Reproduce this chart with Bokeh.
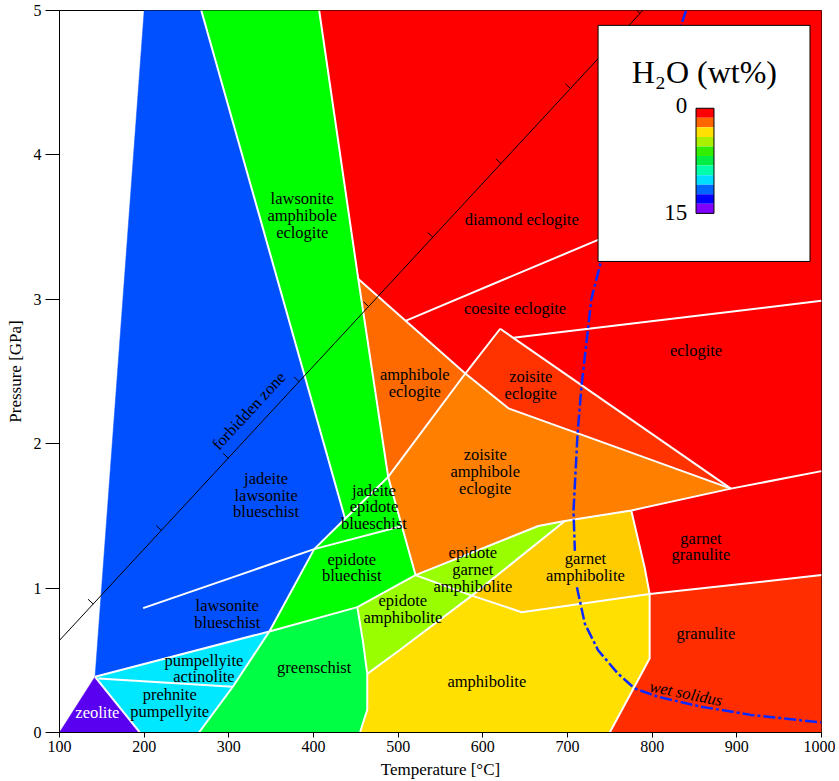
import math
from bokeh.plotting import figure
from bokeh.models import ColumnDataSource, Range1d, FixedTicker
from bokeh.core.properties import value
from bokeh.embed import file_html
from bokeh.resources import INLINE

FONT = "Liberation Serif"

# ---------------- facies fields (T in degC, P in GPa) ----------------
eclogite_T = [406.7, 1000, 1000, 893.0, 620.5, 579.3, 452.9]
eclogite_P = [5.0, 5.0, 1.81, 1.689, 2.796, 2.486, 3.14]
zoisite_eclogite_T = [579.3, 620.5, 893.0, 736.1, 630.2]
zoisite_eclogite_P = [2.486, 2.796, 1.689, 2.021, 2.245]
amph_eclogite_T = [452.9, 579.3, 488.2]
amph_eclogite_P = [3.14, 2.486, 1.77]
zo_amph_eclogite_T = [488.2, 579.3, 630.2, 736.1, 893.0, 775.3, 696.9, 665.5, 520.5]
zo_amph_eclogite_P = [1.77, 2.486, 2.245, 2.021, 1.689, 1.538, 1.465, 1.43, 1.09]
garnet_granulite_T = [775.3, 893.0, 1000, 1000, 797.0, 791.1]
garnet_granulite_P = [1.538, 1.689, 1.81, 1.09, 0.959, 1.143]
granulite_T = [797.0, 1000, 1000, 749.9, 797.0]
granulite_P = [0.959, 1.09, 0.0, 0.0, 0.512]
garnet_amphibolite_T = [587.1, 696.9, 775.3, 791.1, 797.0, 645.9]
garnet_amphibolite_P = [0.948, 1.465, 1.538, 1.143, 0.959, 0.833]
ep_garnet_amphibolite_T = [520.5, 665.5, 696.9, 587.1]
ep_garnet_amphibolite_P = [1.09, 1.43, 1.465, 0.948]
ep_amphibolite_T = [451.8, 520.5, 587.1, 500.8, 463.5, 458.5]
ep_amphibolite_P = [0.868, 1.09, 0.948, 0.566, 0.406, 0.627]
amphibolite_T = [463.5, 500.8, 587.1, 645.9, 797.0, 797.0, 749.9, 454.9, 463.5]
amphibolite_P = [0.406, 0.566, 0.948, 0.833, 0.959, 0.512, 0.0, 0.0, 0.158]
greenschist_T = [347.9, 451.8, 458.5, 463.5, 463.5, 454.9, 264.7, 304.7]
greenschist_P = [0.70, 0.868, 0.627, 0.406, 0.158, 0.0, 0.0, 0.317]
law_amph_eclogite_T = [267.5, 406.7, 452.9, 488.2, 437.3]
law_amph_eclogite_P = [5.0, 5.0, 3.14, 1.77, 1.48]
jd_ep_blueschist_T = [437.3, 488.2, 504.7, 400.8]
jd_ep_blueschist_P = [1.48, 1.77, 1.43, 1.27]
ep_blueschist_T = [400.8, 504.7, 520.5, 451.8, 347.9]
ep_blueschist_P = [1.27, 1.43, 1.09, 0.868, 0.70]
blueschist_T = [200.0, 267.5, 437.3, 400.8, 347.9, 142.0]
blueschist_P = [5.0, 5.0, 1.48, 1.27, 0.70, 0.386]
pumpellyite_T = [142.0, 347.9, 304.7, 264.7, 194.9]
pumpellyite_P = [0.386, 0.70, 0.317, 0.0, 0.0]
zeolite_T = [100.0, 142.0, 194.9]
zeolite_P = [0.0, 0.386, 0.0]

# ---------------- field boundaries (white lines) ----------------
boundary_T = [
    [267.5, 437.3],
    [406.7, 452.9, 488.2, 520.5],
    [400.8, 437.3, 488.2, 579.3, 620.5],
    [452.9, 579.3, 630.2, 736.1, 893.0],
    [620.5, 893.0],
    [636.1, 1000],
    [508.7, 760.0],
    [520.5, 665.5, 696.9, 775.3, 893.0, 1000],
    [400.8, 504.7],
    [198.8, 400.8],
    [400.8, 347.9],
    [142.0, 347.9, 451.8, 520.5],
    [264.7, 304.7, 347.9],
    [145.9, 304.7],
    [142.0, 194.9],
    [451.8, 458.5, 463.5, 463.5, 454.9],
    [463.5, 500.8, 587.1, 696.9],
    [520.5, 587.1, 645.9, 797.0, 1000],
    [775.3, 791.1, 797.0, 797.0, 749.9],
]
boundary_P = [
    [5.0, 1.48],
    [5.0, 3.14, 1.77, 1.09],
    [1.27, 1.48, 1.77, 2.486, 2.796],
    [3.14, 2.486, 2.245, 2.021, 1.689],
    [2.796, 1.689],
    [2.733, 2.99],
    [2.851, 3.47],
    [1.09, 1.43, 1.465, 1.538, 1.689, 1.81],
    [1.27, 1.43],
    [0.861, 1.27],
    [1.27, 0.70],
    [0.386, 0.70, 0.868, 1.09],
    [0.0, 0.317, 0.70],
    [0.374, 0.317],
    [0.386, 0.0],
    [0.868, 0.627, 0.406, 0.158, 0.0],
    [0.406, 0.566, 0.948, 1.465],
    [1.09, 0.948, 0.833, 0.959, 1.09],
    [1.538, 1.143, 0.959, 0.512, 0.0],
]

# wet solidus (gap where the label sits over it)
solidus_T = [840.0, 834.1, 739.3, 728.2, 716.5, 711.8, 707.1, 708.7, float("nan"),
             711.1, 720.5, 736.1, 759.6, 779.3, 806.7, 857.6, 916.5, 1000.0]
solidus_P = [5.0, 4.897, 3.256, 3.003, 2.397, 2.061, 1.534, 1.258, float("nan"),
             1.006, 0.753, 0.57, 0.408, 0.305, 0.248, 0.179, 0.122, 0.069]

# forbidden zone limit and its tick marks
forbidden_T = [100.0, 788.8]
forbidden_P = [0.638, 5.0]
forbidden_tick_P = [0.89, 1.40, 1.90, 2.43, 2.95, 3.43, 3.94, 4.46, 4.98]

# field names and anchor positions
label_text = ["lawsonite\namphibole\neclogite", "diamond eclogite", "coesite eclogite",
              "eclogite", "amphibole\neclogite", "zoisite\neclogite",
              "zoisite\namphibole\neclogite", "jadeite\nlawsonite\nblueschist",
              "jadeite\nepidote\nblueschist", "epidote\nbluechist", "lawsonite\nblueschist",
              "epidote\ngarnet\namphibolite", "epidote\namphibolite", "garnet\namphibolite",
              "garnet\ngranulite", "granulite", "amphibolite", "greenschist",
              "pumpellyite\nactinolite", "prehnite\npumpellyite"]
label_T = [386.7, 645.9, 638.1, 851.8, 519.6, 656.5, 602.8, 344.0, 471.4, 445.2, 298.1,
           588.2, 505.5, 721.2, 857.6, 863.5, 604.7, 400.8, 270.6, 230.2]
label_P = [3.581, 3.554, 2.934, 2.647, 2.422, 2.404, 1.809, 1.644, 1.563, 1.143, 0.820,
           1.129, 0.856, 1.145, 1.288, 0.684, 0.351, 0.450, 0.443, 0.205]

# H2O colour key
h2o_key_labels = ["0", "15"]
h2o_key_colors = ["#FF0000", "#FF6600", "#FFE000", "#AAF000", "#33EE00", "#00EE44",
                  "#00FFAA", "#00DDFF", "#0066FF", "#0000FF", "#8000FF"]

# ---------------- figure ----------------
FW, FH = 762, 722
p = figure(frame_width=FW, frame_height=FH,
           x_range=Range1d(100, 1000), y_range=Range1d(0, 5),
           output_backend="svg", toolbar_location=None,
           min_border_left=59, min_border_right=14, min_border_top=10, min_border_bottom=46,
           background_fill_color="white", border_fill_color="white")
p.xgrid.visible = False
p.ygrid.visible = False
p.outline_line_color = "black"
p.outline_line_width = 1

regions = [
    (eclogite_T, eclogite_P, "#FF0000"),
    (zoisite_eclogite_T, zoisite_eclogite_P, "#FF3300"),
    (amph_eclogite_T, amph_eclogite_P, "#FF6A00"),
    (zo_amph_eclogite_T, zo_amph_eclogite_P, "#FF8000"),
    (garnet_granulite_T, garnet_granulite_P, "#FF0000"),
    (granulite_T, granulite_P, "#FF2D00"),
    (garnet_amphibolite_T, garnet_amphibolite_P, "#FFCC00"),
    (ep_garnet_amphibolite_T, ep_garnet_amphibolite_P, "#99FF00"),
    (ep_amphibolite_T, ep_amphibolite_P, "#99FF00"),
    (amphibolite_T, amphibolite_P, "#FFE000"),
    (greenschist_T, greenschist_P, "#00FF44"),
    (law_amph_eclogite_T, law_amph_eclogite_P, "#00FF00"),
    (jd_ep_blueschist_T, jd_ep_blueschist_P, "#00FF00"),
    (ep_blueschist_T, ep_blueschist_P, "#00FF00"),
    (blueschist_T, blueschist_P, "#0050FF"),
    (pumpellyite_T, pumpellyite_P, "#00E8FF"),
    (zeolite_T, zeolite_P, "#5A00F0"),
]
src = ColumnDataSource(dict(xs=[r[0] for r in regions], ys=[r[1] for r in regions],
                            c=[r[2] for r in regions]))
p.patches("xs", "ys", source=src, fill_color="c", line_color="c", line_width=0.5)

p.multi_line(boundary_T, boundary_P, line_color="white", line_width=2)

# forbidden zone line + ticks
p.line(forbidden_T, forbidden_P, line_color="black", line_width=1)
sx, sy = FW / 900.0, FH / 5.0
slope = (forbidden_P[1] - forbidden_P[0]) / (forbidden_T[1] - forbidden_T[0])
dx, dy = sx, sy * slope
nrm = math.hypot(dx, dy)
ux, uy = dx / nrm, dy / nrm
TL = 7.0
tick_T0 = [forbidden_T[0] + (pp - forbidden_P[0]) / slope for pp in forbidden_tick_P]
tick_T1 = [t - uy * TL / sx for t in tick_T0]
tick_P1 = [pp + ux * TL / sy for pp in forbidden_tick_P]
p.segment(tick_T0, forbidden_tick_P, tick_T1, tick_P1, line_color="black", line_width=1)
ang = math.atan2(dy, dx)
p.text([323.4], [2.228], text=["forbidden zone"], angle=ang,
       text_font=value(FONT), text_font_size="16.5px", text_align="center",
       text_baseline="middle", text_color="black")

# wet solidus
p.line(solidus_T, solidus_P, line_color="#0A28FF", line_width=2.5, line_dash="12 3 3 3")
p.text([840.0], [0.271], text=["wet solidus"], angle=math.radians(-11.5),
       text_font=value(FONT), text_font_size="16.5px", text_font_style="italic",
       text_align="center", text_baseline="middle", text_color="black")

# field labels
LH = 16.8 / sy
lx, ly, lt = [], [], []
for t, x, y in zip(label_text, label_T, label_P):
    lines = t.split("\n")
    n = len(lines)
    for k, s in enumerate(lines):
        lx.append(x)
        ly.append(y - (k - (n - 1) / 2.0) * LH)
        lt.append(s)
p.text(lx, ly, text=lt, text_font=value(FONT), text_font_size="16.5px",
       text_align="center", text_baseline="middle", text_color="black")
p.text([144.7], [0.138], text=["zeolite"], text_font=value(FONT), text_font_size="16.5px",
       text_align="center", text_baseline="middle", text_color="white")

# H2O key box
p.quad(left=[736.1], right=[986.4], bottom=[3.262], top=[4.897],
       fill_color="white", line_color="black", line_width=1)
p.text([861.6], [4.575], text=["H\u2082O (wt%)"], text_font=value(FONT),
       text_font_size="32px", text_align="center", text_baseline="middle", text_color="black")
cb_top, cb_bot = 4.323, 3.595
nb = len(h2o_key_colors)
step = (cb_top - cb_bot) / nb
p.quad(left=[851.8] * nb, right=[873.0] * nb,
       top=[cb_top - k * step for k in range(nb)],
       bottom=[cb_top - (k + 1) * step for k in range(nb)],
       fill_color=h2o_key_colors, line_color=None)
p.quad(left=[851.8], right=[873.0], top=[cb_top], bottom=[cb_bot],
       fill_color=None, line_color="black", line_width=1)
p.text([841.5, 841.5], [4.339, 3.602], text=h2o_key_labels, text_font=value(FONT),
       text_font_size="23px", text_align="right", text_baseline="middle", text_color="black")

# axes
p.xaxis.ticker = FixedTicker(ticks=[100, 200, 300, 400, 500, 600, 700, 800, 900, 1000])
p.yaxis.ticker = FixedTicker(ticks=[0, 1, 2, 3, 4, 5])
p.xaxis.axis_label = "Temperature [\u00b0C]"
p.yaxis.axis_label = "Pressure [GPa]"
for ax in (p.xaxis[0], p.yaxis[0]):
    ax.major_label_text_font = FONT
    ax.major_label_text_font_size = "16px"
    ax.major_label_text_color = "black"
    ax.axis_label_text_font = FONT
    ax.axis_label_text_font_size = "17px"
    ax.axis_label_text_font_style = "normal"
    ax.axis_label_text_color = "black"
    ax.axis_line_color = "black"
    ax.major_tick_line_color = "black"
    ax.major_tick_in = 0
    ax.minor_tick_line_color = None
p.xaxis.major_tick_out = 5
p.yaxis.major_tick_out = 14
p.xaxis.major_label_standoff = 3
p.yaxis.major_label_standoff = 4
p.xaxis.axis_label_standoff = 5
p.yaxis.axis_label_standoff = 6

open("out.html", "w").write(file_html(p, INLINE))
